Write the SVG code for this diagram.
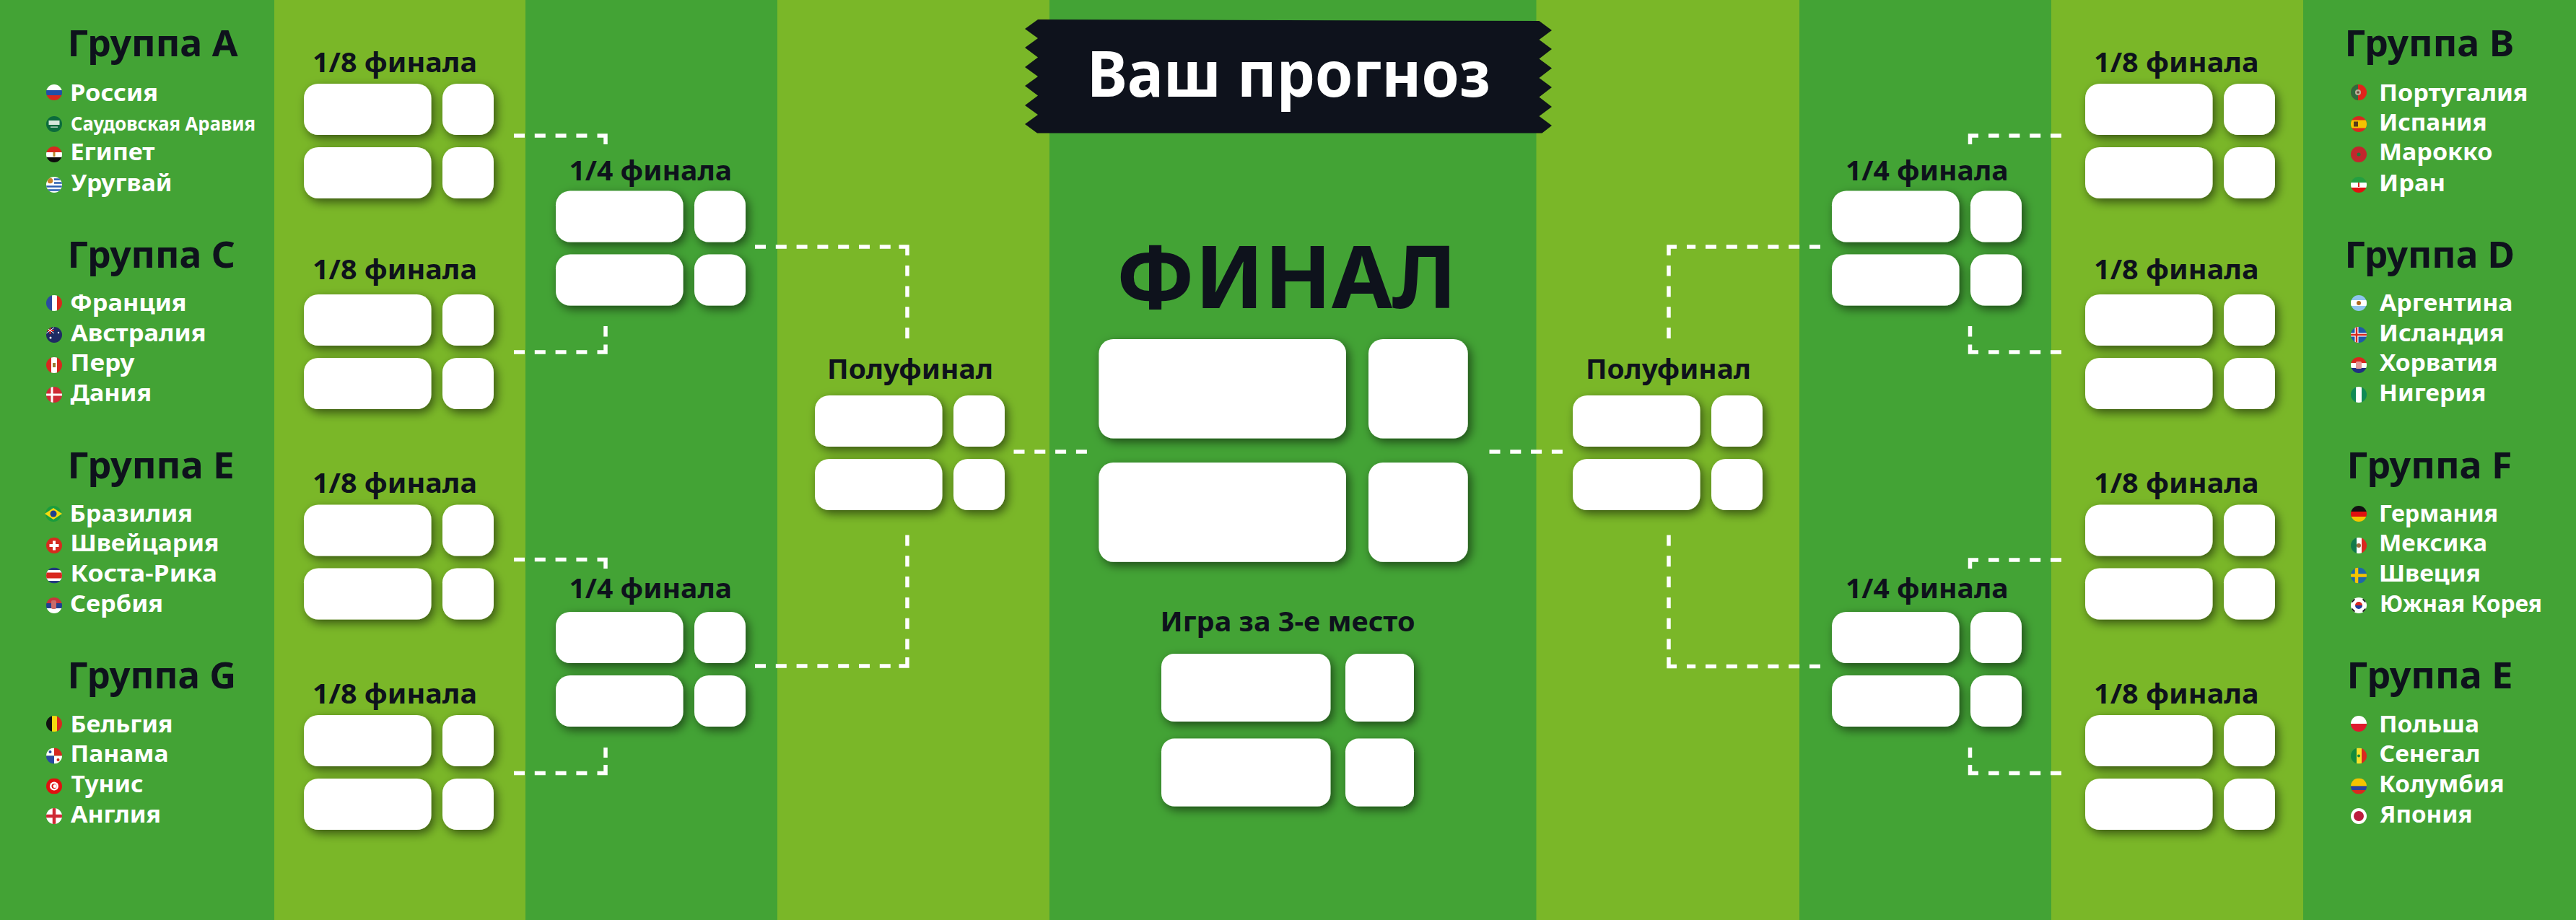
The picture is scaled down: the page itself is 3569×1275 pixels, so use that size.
<svg xmlns="http://www.w3.org/2000/svg" width="3569" height="1275" viewBox="0 0 3569 1275">
<style>
.dk{fill:#43a335}.lt{fill:#7ab728}
text{font-family:"Noto Sans","Open Sans",sans-serif}
.h{font-size:51px;font-weight:700;fill:#0e121c}
.t{font-size:33px;font-weight:700;fill:#fff}
.ts{font-size:26px;font-weight:700;fill:#fff}
.s{font-size:38px;font-weight:700;fill:#0e121c}
.b{fill:#fff}
.c{fill:none;stroke:#fff;stroke-width:5.5}
.d{stroke-dasharray:15 13.8}
</style>
<defs>
<filter id="sh" x="-30%" y="-30%" width="160%" height="170%"><feDropShadow dx="4" dy="5" stdDeviation="7" flood-color="#000" flood-opacity=".55"/></filter>
<clipPath id="fc"><circle r="11"/></clipPath>
<g id="card" filter="url(#sh)"><rect class="b" width="176.5" height="71" rx="20"/><rect class="b" x="192" width="71" height="71" rx="20"/><rect class="b" y="88" width="176.5" height="71" rx="20"/><rect class="b" x="192" y="88" width="71" height="71" rx="20"/></g>
<g id="f-ru" clip-path="url(#fc)"><rect x="-11" y="-11" width="22" height="8" fill="#fff"/><rect x="-11" y="-3" width="22" height="7" fill="#1f4fa8"/><rect x="-11" y="4" width="22" height="7" fill="#d8281f"/></g>
<g id="f-sa" clip-path="url(#fc)"><rect x="-11" y="-11" width="22" height="22" fill="#0c6b3c"/><rect x="-7.500" y="-5" width="15" height="6" fill="#d8e8dc"/><rect x="-5" y="3.500" width="10" height="1.200" fill="#d8e8dc"/></g>
<g id="f-eg" clip-path="url(#fc)"><rect x="-11" y="-11" width="22" height="8" fill="#d8281f"/><rect x="-11" y="-3" width="22" height="7" fill="#fff"/><rect x="-11" y="4" width="22" height="7" fill="#0d0d0d"/><rect x="-1.500" y="-3" width="3" height="6" fill="#b98a2e"/></g>
<g id="f-uy" clip-path="url(#fc)"><rect x="-11" y="-11" width="22" height="22" fill="#fff"/><path d="M0-7.500H11M0-2.500H11M-11 2.500H11M-11 7.500H11" stroke="#2b5fb0" stroke-width="2.500"/><circle cx="-5.500" cy="-5.500" r="3.800" fill="#c9802a"/></g>
<g id="f-fr" clip-path="url(#fc)"><rect x="-11" y="-11" width="8" height="22" fill="#2a4ba0"/><rect x="-3" y="-11" width="7" height="22" fill="#fff"/><rect x="4" y="-11" width="7" height="22" fill="#d8281f"/></g>
<g id="f-au" clip-path="url(#fc)"><rect x="-11" y="-11" width="22" height="22" fill="#1f2a63"/><path d="M-11-6H0M-5.500-11V-1" stroke="#d8281f" stroke-width="2"/><path d="M-11-10L0-2M0-10L-11-2" stroke="#fff" stroke-width="1"/><circle cx="6" cy="-3" r="1.200" fill="#fff"/><circle cx="-5" cy="4" r="1.500" fill="#fff"/></g>
<g id="f-pe" clip-path="url(#fc)"><rect x="-11" y="-11" width="22" height="22" fill="#d8281f"/><rect x="-4" y="-11" width="8" height="22" fill="#fff"/><rect x="-2" y="-3" width="4" height="6" fill="#9a7a30"/></g>
<g id="f-dk" clip-path="url(#fc)"><rect x="-11" y="-11" width="22" height="22" fill="#cf2a35"/><path d="M-11 0H11M-3-11V11" stroke="#fff" stroke-width="3"/></g>
<g id="f-br"><circle r="11" fill="#1a9c3e"/><path d="M-12 0L0-8 12 0 0 8Z" fill="#f5d90f"/><circle r="4.500" fill="#1f3f8f"/></g>
<g id="f-ch" clip-path="url(#fc)"><rect x="-11" y="-11" width="22" height="22" fill="#d52b1e"/><path d="M-6.500 0H6.500M0-6.500V6.500" stroke="#fff" stroke-width="4"/></g>
<g id="f-cr" clip-path="url(#fc)"><rect x="-11" y="-11" width="22" height="22" fill="#233a80"/><rect x="-11" y="-7.500" width="22" height="15" fill="#fff"/><rect x="-11" y="-4" width="22" height="8" fill="#d8281f"/></g>
<g id="f-rs" clip-path="url(#fc)"><rect x="-11" y="-11" width="22" height="8" fill="#c6363c"/><rect x="-11" y="-3" width="22" height="7" fill="#1f3f8f"/><rect x="-11" y="4" width="22" height="7" fill="#fff"/><rect x="-4" y="-7" width="7" height="12" rx="2" fill="#c96a6a"/></g>
<g id="f-be" clip-path="url(#fc)"><rect x="-11" y="-11" width="8" height="22" fill="#111"/><rect x="-3" y="-11" width="7" height="22" fill="#f5d90f"/><rect x="4" y="-11" width="7" height="22" fill="#d8281f"/></g>
<g id="f-pa" clip-path="url(#fc)"><rect x="-11" y="-11" width="11" height="11" fill="#fff"/><rect y="-11" width="11" height="11" fill="#d8281f"/><rect x="-11" width="11" height="11" fill="#2a4ba0"/><rect width="11" height="11" fill="#fff"/><circle cx="-5.500" cy="-5.500" r="2" fill="#2a4ba0"/><circle cx="5.500" cy="5.500" r="2" fill="#d8281f"/></g>
<g id="f-tn" clip-path="url(#fc)"><rect x="-11" y="-11" width="22" height="22" fill="#e01010"/><circle r="6" fill="#fff"/><circle r="3.500" fill="#e01010"/><circle cx="1" r="2.500" fill="#fff"/></g>
<g id="f-en" clip-path="url(#fc)"><rect x="-11" y="-11" width="22" height="22" fill="#fff"/><path d="M-11 0H11M0-11V11" stroke="#cf2a35" stroke-width="4.500"/></g>
<g id="f-pt" clip-path="url(#fc)"><rect x="-11" y="-11" width="22" height="22" fill="#e0241b"/><rect x="-11" y="-11" width="10" height="22" fill="#2f6b3c"/><circle cx="-1" r="4" fill="#b9b09a"/><circle cx="-1" r="1.800" fill="#6a4a3a"/></g>
<g id="f-es" clip-path="url(#fc)"><rect x="-11" y="-11" width="22" height="22" fill="#d8281f"/><rect x="-11" y="-5.500" width="22" height="11" fill="#f5c400"/><rect x="-7" y="-3.500" width="6" height="7" fill="#5a3a1a"/></g>
<g id="f-ma" clip-path="url(#fc)"><rect x="-11" y="-11" width="22" height="22" fill="#c1272d"/><circle r="2.500" fill="#1f7a3c"/></g>
<g id="f-ir" clip-path="url(#fc)"><rect x="-11" y="-11" width="22" height="8" fill="#239f40"/><rect x="-11" y="-3" width="22" height="7" fill="#fff"/><rect x="-11" y="4" width="22" height="7" fill="#e01010"/><rect x="-1" y="-3" width="2" height="6" fill="#d8281f"/></g>
<g id="f-ar" clip-path="url(#fc)"><rect x="-11" y="-11" width="22" height="22" fill="#8ec5ee"/><rect x="-11" y="-4" width="22" height="8" fill="#fff"/><circle r="3" fill="#b06a1e"/></g>
<g id="f-is" clip-path="url(#fc)"><rect x="-11" y="-11" width="22" height="22" fill="#1f5aa8"/><path d="M-11 0H11M-3-11V11" stroke="#fff" stroke-width="5"/><path d="M-11 0H11M-3-11V11" stroke="#d8281f" stroke-width="2.500"/></g>
<g id="f-hr" clip-path="url(#fc)"><rect x="-11" y="-11" width="22" height="8" fill="#d8281f"/><rect x="-11" y="-3" width="22" height="7" fill="#fff"/><rect x="-11" y="4" width="22" height="7" fill="#1f2f80"/><rect x="-4" y="-5" width="8" height="10" rx="1.500" fill="#e39a9a"/></g>
<g id="f-ng" clip-path="url(#fc)"><rect x="-11" y="-11" width="22" height="22" fill="#0f8a55"/><rect x="-4" y="-11" width="8" height="22" fill="#fff"/></g>
<g id="f-de" clip-path="url(#fc)"><rect x="-11" y="-11" width="22" height="8" fill="#111"/><rect x="-11" y="-3" width="22" height="7" fill="#e01010"/><rect x="-11" y="4" width="22" height="7" fill="#f5c400"/></g>
<g id="f-mx" clip-path="url(#fc)"><rect x="-11" y="-11" width="8" height="22" fill="#127a4a"/><rect x="-3" y="-11" width="7" height="22" fill="#fff"/><rect x="4" y="-11" width="7" height="22" fill="#d8281f"/><circle r="3" fill="#9a6a3a"/></g>
<g id="f-se" clip-path="url(#fc)"><rect x="-11" y="-11" width="22" height="22" fill="#1f66a8"/><path d="M-11 0H11M-3-11V11" stroke="#f5c400" stroke-width="4.500"/></g>
<g id="f-kr" clip-path="url(#fc)"><rect x="-11" y="-11" width="22" height="22" fill="#fff"/><path d="M-5 0A5 5 0 0 1 5 0Z" fill="#d8281f"/><path d="M-5 0A5 5 0 0 0 5 0Z" fill="#1f3f9f"/><path d="M-10-5L-6-9M-10 5L-6 9M10-5L6-9M10 5L6 9" stroke="#111" stroke-width="3"/></g>
<g id="f-pl" clip-path="url(#fc)"><rect x="-11" y="-11" width="22" height="11" fill="#fff"/><rect x="-11" width="22" height="11" fill="#e0182d"/></g>
<g id="f-sn" clip-path="url(#fc)"><rect x="-11" y="-11" width="8" height="22" fill="#118a3c"/><rect x="-3" y="-11" width="7" height="22" fill="#f5e12a"/><rect x="4" y="-11" width="7" height="22" fill="#d8281f"/><circle r="2" fill="#118a3c"/></g>
<g id="f-co" clip-path="url(#fc)"><rect x="-11" y="-11" width="22" height="11" fill="#f5c400"/><rect x="-11" width="22" height="5.500" fill="#2a3f9f"/><rect x="-11" y="5.500" width="22" height="5.500" fill="#d8281f"/></g>
<g id="f-jp" clip-path="url(#fc)"><rect x="-11" y="-11" width="22" height="22" fill="#fff"/><circle r="7" fill="#bc1c3c"/></g>
</defs>

<g id="background">
<rect class="dk" width="3569" height="1275"/>
<rect class="lt" x="380" width="348" height="1275"/>
<rect class="lt" x="1077" width="377" height="1275"/>
<rect class="lt" x="2128.500" width="364.500" height="1275"/>
<rect class="lt" x="2842" width="349" height="1275"/>
</g>

<g id="connectors">
<path class="c d" d="M712 188H827M712 488H827M712 775.500H827M712 1071.500H827"/>
<path class="c" d="M827.500 188H839V200M827.500 488H839V477.500M827.500 775.500H839V788M827.500 1071.500H839V1060"/>
<path class="c" d="M839 452V466.500M839 1036V1050"/>
<path class="c d" d="M1046 342H1235M1046 923H1235"/>
<path class="c" d="M1245.500 342H1257V354M1245.500 923H1257V911"/>
<path class="c d" d="M1257 469V368M1257 741.500V900"/>
<path class="c d" d="M1404.500 626H1506M2063.500 626H2165"/>
<path class="c" d="M2323 342H2312V354M2323 923.500H2312V911"/>
<path class="c d" d="M2312 469V368M2312 741.500V900"/>
<path class="c d" d="M2522 342H2337M2522 923.500H2337"/>
<path class="c" d="M2741 188H2729.500V200M2741 488H2729.500V477.500M2741 776H2729.500V788M2741 1071.500H2729.500V1060"/>
<path class="c" d="M2729.500 452V466.500M2729.500 1036V1050"/>
<path class="c d" d="M2856 188H2755M2856 488H2755M2856 776H2755M2856 1071.500H2755"/>
</g>

<g id="banner">
<path fill="#0e121c" d="M1438 27L2132.500 29L2150 42L2132.500 55L2150 68L2132.500 81.500L2150 94.500L2132.500 108L2150 121L2132.500 134.500L2150 148L2132.500 161L2150 174L2136.500 184.500L1437 184.500L1420 172L1438 159L1420 146L1438 132.500L1420 119L1438 106L1420 93L1438 79.500L1420 66L1438 53L1420 40Z"/>
<text x="1506" y="133.500" font-weight="700" fill="#fff" textLength="559" lengthAdjust="spacingAndGlyphs" style="font-size:87px">Ваш прогноз</text>
</g>

<g id="group-a"><text class="h" x="93.500" y="78.400" textLength="236" lengthAdjust="spacingAndGlyphs">Группа А</text>
<use href="#f-ru" x="75" y="128"/><text class="t" x="97" y="139.600" textLength="122" lengthAdjust="spacingAndGlyphs">Россия</text>
<use href="#f-sa" x="75" y="172"/><text class="ts" x="98" y="180.800" textLength="256" lengthAdjust="spacingAndGlyphs">Саудовская Аравия</text>
<use href="#f-eg" x="75" y="214"/><text class="t" x="97.500" y="222.400" textLength="117" lengthAdjust="spacingAndGlyphs">Египет</text>
<use href="#f-uy" x="75" y="256"/><text class="t" x="98.500" y="264.500" textLength="140" lengthAdjust="spacingAndGlyphs">Уругвай</text></g>
<g id="group-c"><text class="h" x="93.500" y="370.600" textLength="232.500" lengthAdjust="spacingAndGlyphs">Группа С</text>
<use href="#f-fr" x="75" y="420"/><text class="t" x="97" y="430.600" textLength="161.500" lengthAdjust="spacingAndGlyphs">Франция</text>
<use href="#f-au" x="75" y="464"/><text class="t" x="98" y="472.700" textLength="187.500" lengthAdjust="spacingAndGlyphs">Австралия</text>
<use href="#f-pe" x="75" y="506"/><text class="t" x="97.500" y="514.300" textLength="89" lengthAdjust="spacingAndGlyphs">Перу</text>
<use href="#f-dk" x="75" y="547"/><text class="t" x="97.500" y="556" textLength="112.700" lengthAdjust="spacingAndGlyphs">Дания</text></g>
<g id="group-e"><text class="h" x="93.500" y="662.800" textLength="231" lengthAdjust="spacingAndGlyphs">Группа Е</text>
<use href="#f-br" x="74" y="712"/><text class="t" x="96.500" y="722.800" textLength="170.500" lengthAdjust="spacingAndGlyphs">Бразилия</text>
<use href="#f-ch" x="75" y="756"/><text class="t" x="97.500" y="764.400" textLength="206" lengthAdjust="spacingAndGlyphs">Швейцария</text>
<use href="#f-cr" x="75" y="797.500"/><text class="t" x="97.500" y="806" textLength="203.500" lengthAdjust="spacingAndGlyphs">Коста-Рика</text>
<use href="#f-rs" x="75" y="839"/><text class="t" x="97" y="847.700" textLength="129" lengthAdjust="spacingAndGlyphs">Сербия</text></g>
<g id="group-g"><text class="h" x="93.500" y="954" textLength="233.500" lengthAdjust="spacingAndGlyphs">Группа G</text>
<use href="#f-be" x="75" y="1003"/><text class="t" x="97.500" y="1014.600" textLength="142" lengthAdjust="spacingAndGlyphs">Бельгия</text>
<use href="#f-pa" x="75" y="1047.500"/><text class="t" x="97.500" y="1056" textLength="136" lengthAdjust="spacingAndGlyphs">Панама</text>
<use href="#f-tn" x="75" y="1089.500"/><text class="t" x="98.500" y="1098" textLength="100" lengthAdjust="spacingAndGlyphs">Тунис</text>
<use href="#f-en" x="75" y="1131"/><text class="t" x="98" y="1140" textLength="125" lengthAdjust="spacingAndGlyphs">Англия</text></g>

<g id="group-b"><text class="h" x="3248.500" y="78.400" textLength="234.500" lengthAdjust="spacingAndGlyphs">Группа В</text>
<use href="#f-pt" x="3268" y="128"/><text class="t" x="3296" y="139.600" textLength="206.500" lengthAdjust="spacingAndGlyphs">Португалия</text>
<use href="#f-es" x="3268" y="172"/><text class="t" x="3296" y="180.800" textLength="149.500" lengthAdjust="spacingAndGlyphs">Испания</text>
<use href="#f-ma" x="3268" y="214"/><text class="t" x="3296" y="222.400" textLength="157.500" lengthAdjust="spacingAndGlyphs">Марокко</text>
<use href="#f-ir" x="3268" y="256"/><text class="t" x="3296" y="264.500" textLength="92" lengthAdjust="spacingAndGlyphs">Иран</text></g>
<g id="group-d"><text class="h" x="3248.500" y="370.600" textLength="235.500" lengthAdjust="spacingAndGlyphs">Группа D</text>
<use href="#f-ar" x="3268" y="420"/><text class="t" x="3297" y="430.600" textLength="184.500" lengthAdjust="spacingAndGlyphs">Аргентина</text>
<use href="#f-is" x="3268" y="464"/><text class="t" x="3296" y="472.700" textLength="173.500" lengthAdjust="spacingAndGlyphs">Исландия</text>
<use href="#f-hr" x="3268" y="506"/><text class="t" x="3297" y="514.300" textLength="163.500" lengthAdjust="spacingAndGlyphs">Хорватия</text>
<use href="#f-ng" x="3268" y="547"/><text class="t" x="3296" y="556" textLength="148.500" lengthAdjust="spacingAndGlyphs">Нигерия</text></g>
<g id="group-f"><text class="h" x="3251.500" y="662.800" textLength="229" lengthAdjust="spacingAndGlyphs">Группа F</text>
<use href="#f-de" x="3268" y="712"/><text class="t" x="3296" y="722.800" textLength="165" lengthAdjust="spacingAndGlyphs">Германия</text>
<use href="#f-mx" x="3268" y="756"/><text class="t" x="3296" y="764.400" textLength="150" lengthAdjust="spacingAndGlyphs">Мексика</text>
<use href="#f-se" x="3268" y="797.500"/><text class="t" x="3296" y="806" textLength="141" lengthAdjust="spacingAndGlyphs">Швеция</text>
<use href="#f-kr" x="3268" y="839"/><text class="t" x="3297" y="847.700" textLength="225" lengthAdjust="spacingAndGlyphs">Южная Корея</text></g>
<g id="group-e2"><text class="h" x="3251.500" y="954" textLength="230" lengthAdjust="spacingAndGlyphs">Группа Е</text>
<use href="#f-pl" x="3268" y="1003"/><text class="t" x="3296" y="1014.600" textLength="139" lengthAdjust="spacingAndGlyphs">Польша</text>
<use href="#f-sn" x="3268" y="1047.500"/><text class="t" x="3296.500" y="1056" textLength="140" lengthAdjust="spacingAndGlyphs">Сенегал</text>
<use href="#f-co" x="3268" y="1089.500"/><text class="t" x="3296" y="1098" textLength="173.500" lengthAdjust="spacingAndGlyphs">Колумбия</text>
<use href="#f-jp" x="3268" y="1131"/><text class="t" x="3297" y="1140" textLength="128.500" lengthAdjust="spacingAndGlyphs">Япония</text></g>

<g id="r16-l1"><text class="s" x="433" y="100" textLength="228" lengthAdjust="spacingAndGlyphs">1/8 финала</text><use href="#card" x="421" y="116"/></g>
<g id="r16-l2"><text class="s" x="433" y="387" textLength="228" lengthAdjust="spacingAndGlyphs">1/8 финала</text><use href="#card" x="421" y="408"/></g>
<g id="r16-l3"><text class="s" x="433" y="683" textLength="228" lengthAdjust="spacingAndGlyphs">1/8 финала</text><use href="#card" x="421" y="699.500"/></g>
<g id="r16-l4"><text class="s" x="433" y="974.600" textLength="228" lengthAdjust="spacingAndGlyphs">1/8 финала</text><use href="#card" x="421" y="991"/></g>
<g id="r16-r1"><text class="s" x="2901" y="100" textLength="228.500" lengthAdjust="spacingAndGlyphs">1/8 финала</text><use href="#card" x="2889" y="116"/></g>
<g id="r16-r2"><text class="s" x="2901" y="387" textLength="228.500" lengthAdjust="spacingAndGlyphs">1/8 финала</text><use href="#card" x="2889" y="408"/></g>
<g id="r16-r3"><text class="s" x="2901" y="683" textLength="228.500" lengthAdjust="spacingAndGlyphs">1/8 финала</text><use href="#card" x="2889" y="699.500"/></g>
<g id="r16-r4"><text class="s" x="2901" y="974.600" textLength="228.500" lengthAdjust="spacingAndGlyphs">1/8 финала</text><use href="#card" x="2889" y="991"/></g>
<g id="qf-l1"><text class="s" x="788.500" y="250" textLength="225.500" lengthAdjust="spacingAndGlyphs">1/4 финала</text><use href="#card" x="770" y="264.500"/></g>
<g id="qf-l2"><text class="s" x="788.500" y="829" textLength="225.500" lengthAdjust="spacingAndGlyphs">1/4 финала</text><use href="#card" x="770" y="848"/></g>
<g id="qf-r1"><text class="s" x="2557" y="250" textLength="225.500" lengthAdjust="spacingAndGlyphs">1/4 финала</text><use href="#card" x="2538" y="264.500"/></g>
<g id="qf-r2"><text class="s" x="2557" y="829" textLength="225.500" lengthAdjust="spacingAndGlyphs">1/4 финала</text><use href="#card" x="2538" y="848"/></g>
<g id="sf-l"><text class="s" x="1146" y="525" textLength="230" lengthAdjust="spacingAndGlyphs">Полуфинал</text><use href="#card" x="1129" y="548"/></g>
<g id="sf-r"><text class="s" x="2197" y="525" textLength="229" lengthAdjust="spacingAndGlyphs">Полуфинал</text><use href="#card" x="2179" y="548"/></g>

<g id="final"><text x="1546" y="427" fill="#0e121c" font-weight="700" textLength="472" lengthAdjust="spacingAndGlyphs" style="font-size:120px">ФИНАЛ</text>
<g filter="url(#sh)"><rect class="b" x="1522.400" y="470" width="342.600" height="137.500" rx="20"/><rect class="b" x="1896" y="470" width="137.700" height="137.500" rx="20"/><rect class="b" x="1522.400" y="641" width="342.600" height="137.700" rx="20"/><rect class="b" x="1896" y="641" width="137.700" height="137.700" rx="20"/></g></g>
<g id="third-place"><text class="s" x="1607.500" y="874.600" textLength="353" lengthAdjust="spacingAndGlyphs">Игра за 3-е место</text>
<g filter="url(#sh)"><rect class="b" x="1609" y="906" width="234.400" height="94" rx="18"/><rect class="b" x="1864" y="906" width="95" height="94" rx="18"/><rect class="b" x="1609" y="1023.600" width="234.400" height="94" rx="18"/><rect class="b" x="1864" y="1023.600" width="95" height="94" rx="18"/></g></g>
</svg>
